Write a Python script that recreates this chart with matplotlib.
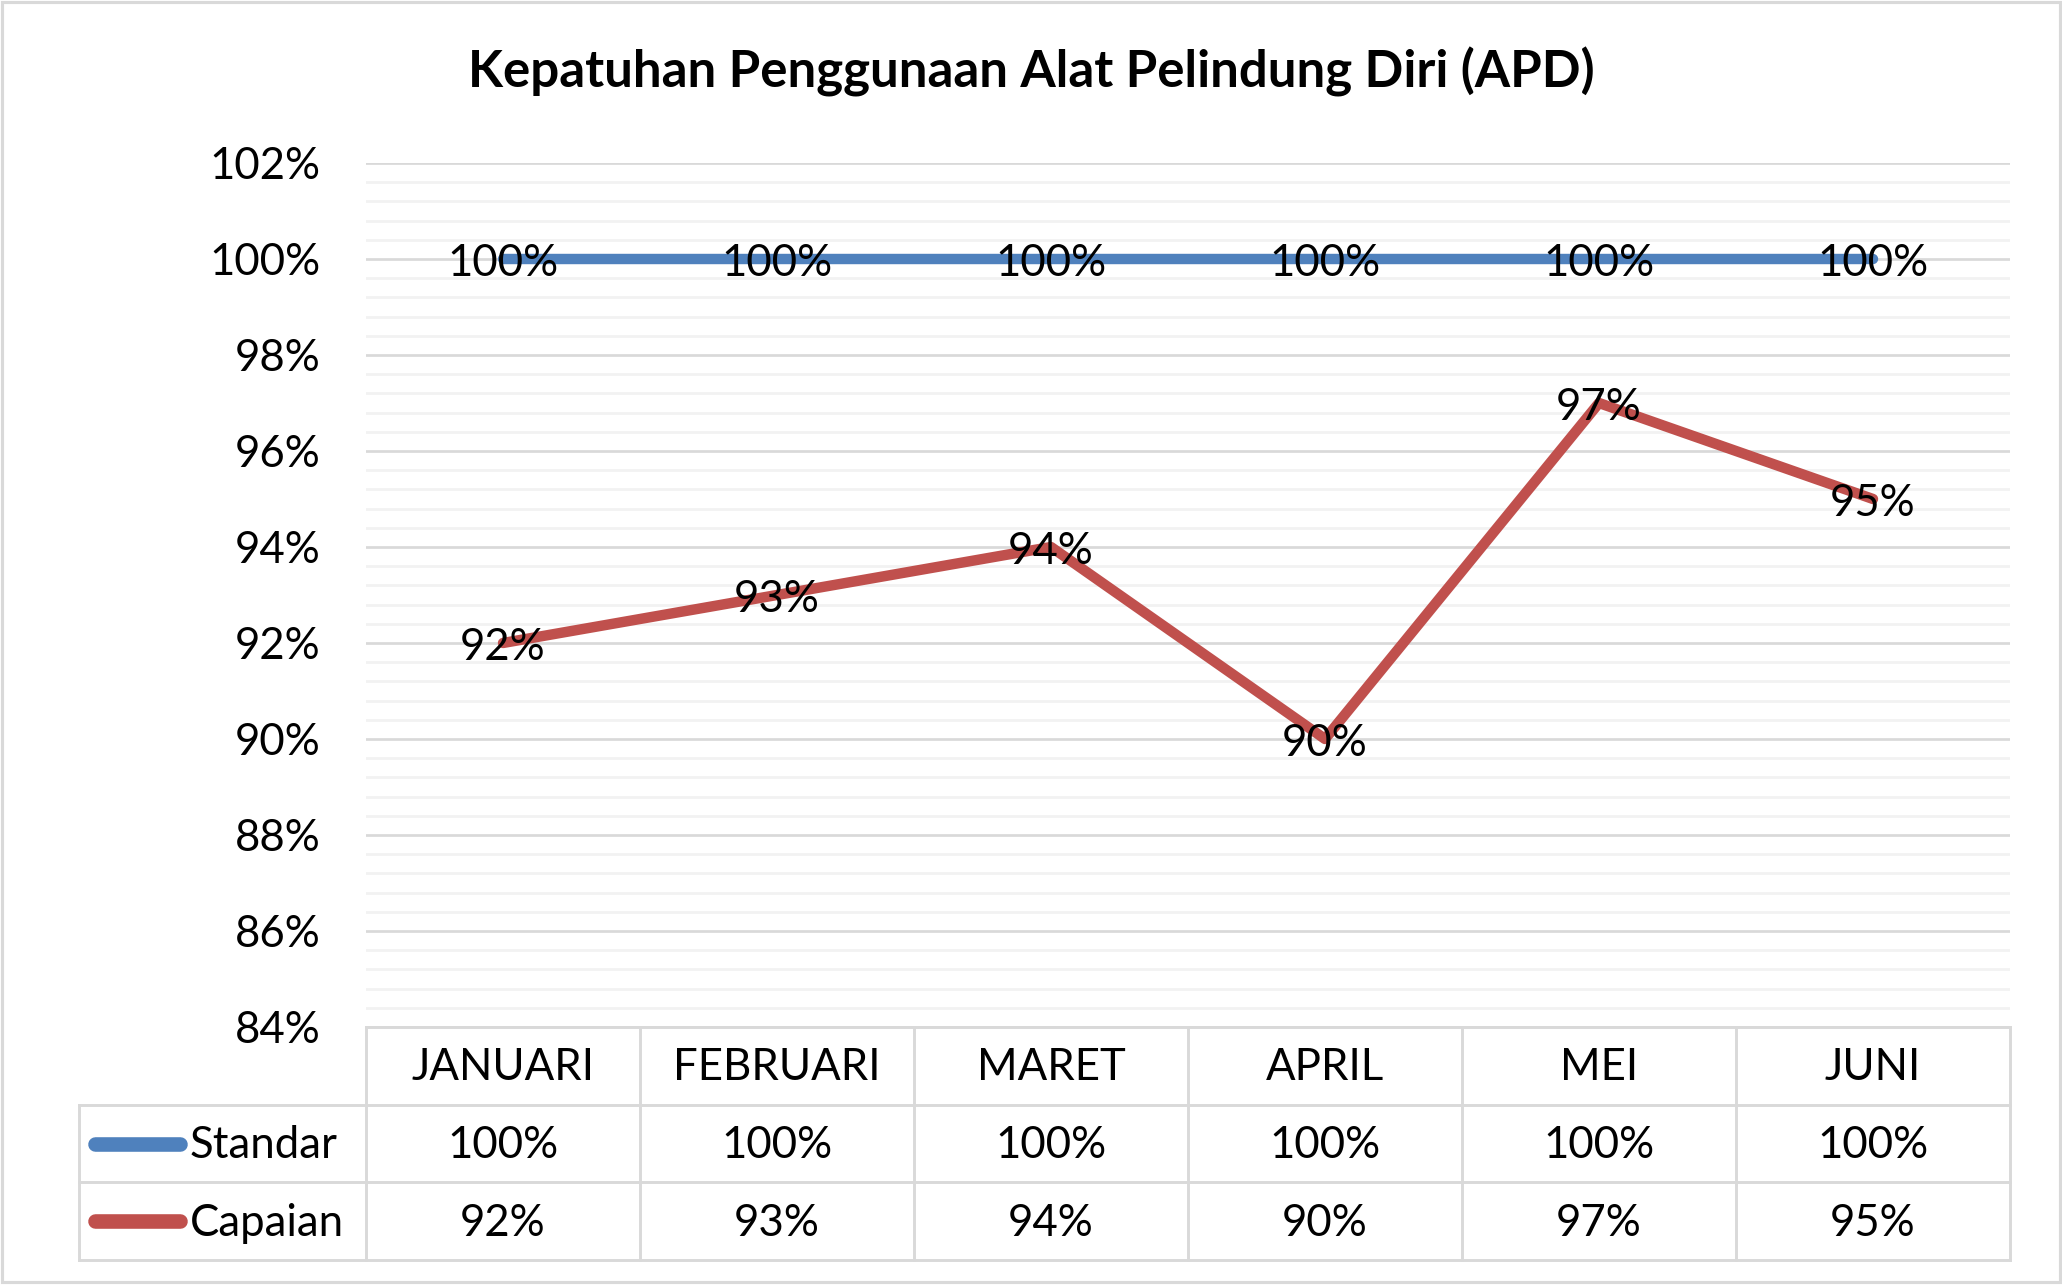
import numpy as np
import matplotlib.pyplot as plt
from matplotlib.lines import Line2D
from matplotlib.patches import Rectangle
from matplotlib.ticker import MultipleLocator, PercentFormatter

plt.rcParams['font.family'] = ['Lato', 'DejaVu Sans']

# data
bulan = ['JANUARI', 'FEBRUARI', 'MARET', 'APRIL', 'MEI', 'JUNI']
standar = [1.00, 1.00, 1.00, 1.00, 1.00, 1.00]
capaian = [0.92, 0.93, 0.94, 0.90, 0.97, 0.95]
nama_seri = ['Standar', 'Capaian']
warna = ['#4F81BD', '#C0504D']

W, H = 2062, 1285
fig = plt.figure(figsize=(W / 150, H / 150), dpi=150)

def fx(px):
    return px / W

def fy(px):
    return 1 - px / H

# pixel layout
left, right = 366, 2010
top, bottom = 163, 1027
rows = [1027, 1105, 1182, 1260]
leg_left = 79
fs = 21

ax = fig.add_axes([fx(left), fy(bottom), fx(right) - fx(left), fy(top) - fy(bottom)])
x = np.arange(len(bulan))

ax.set_xlim(-0.5, len(bulan) - 0.5)
ax.set_ylim(0.84, 1.02)
ax.yaxis.set_major_locator(MultipleLocator(0.02))
ax.yaxis.set_minor_locator(MultipleLocator(0.004))
ax.yaxis.set_major_formatter(PercentFormatter(1.0, decimals=0))
ax.grid(axis='y', which='major', color='#D9D9D9', lw=1.3, zorder=0)
ax.grid(axis='y', which='minor', color='#F2F2F2', lw=1.3, zorder=0)
ax.tick_params(axis='y', which='both', length=0, labelsize=fs, pad=22)
ax.set_xticks([])
for s in ax.spines.values():
    s.set_visible(False)

for vals, nama, c in zip([standar, capaian], nama_seri, warna):
    ax.plot(x, vals, color=c, lw=5, solid_capstyle='round', zorder=3)
    for xi, v in zip(x, vals):
        ax.annotate(f'{v:.0%}', (xi, v), xytext=(0, -2), textcoords='offset points',
                    ha='center', va='center', fontsize=fs, zorder=4)

# title
fig.text(0.5, fy(72), 'Kepatuhan Penggunaan Alat Pelindung Diri (APD)',
         ha='center', va='center', fontsize=24.5, fontweight='bold')

# data table
gc = '#D9D9D9'
lw = 1.4
fig.add_artist(Line2D([fx(left), fx(right)], [fy(rows[0])] * 2, color=gc, lw=lw))
for r in rows[1:]:
    fig.add_artist(Line2D([fx(leg_left), fx(right)], [fy(r)] * 2, color=gc, lw=lw))
col_w = (right - left) / len(bulan)
for i in range(len(bulan) + 1):
    xc = left + i * col_w
    fig.add_artist(Line2D([fx(xc)] * 2, [fy(rows[0]), fy(rows[-1])], color=gc, lw=lw))
fig.add_artist(Line2D([fx(leg_left)] * 2, [fy(rows[1]), fy(rows[-1])], color=gc, lw=lw))

for i, b in enumerate(bulan):
    xc = left + (i + 0.5) * col_w
    fig.text(fx(xc), fy((rows[0] + rows[1]) / 2 + 2), b, ha='center', va='center', fontsize=fs)
    for j, vals in enumerate([standar, capaian]):
        fig.text(fx(xc), fy((rows[j + 1] + rows[j + 2]) / 2 + 2), f'{vals[i]:.0%}',
                 ha='center', va='center', fontsize=fs)

for j, (nama, c) in enumerate(zip(nama_seri, warna)):
    yc = fy((rows[j + 1] + rows[j + 2]) / 2)
    fig.add_artist(Line2D([fx(95), fx(180)], [yc, yc], color=c, lw=7,
                          solid_capstyle='round'))
    fig.text(fx(190), fy((rows[j + 1] + rows[j + 2]) / 2 + 2), nama,
             ha='left', va='center', fontsize=fs)

# outer border
fig.add_artist(Rectangle((fx(2), fy(1282)), fx(W - 4), fy(2) - fy(1282),
                         fill=False, ec='#D9D9D9', lw=1.5))

fig.savefig('out.png', dpi=150)
